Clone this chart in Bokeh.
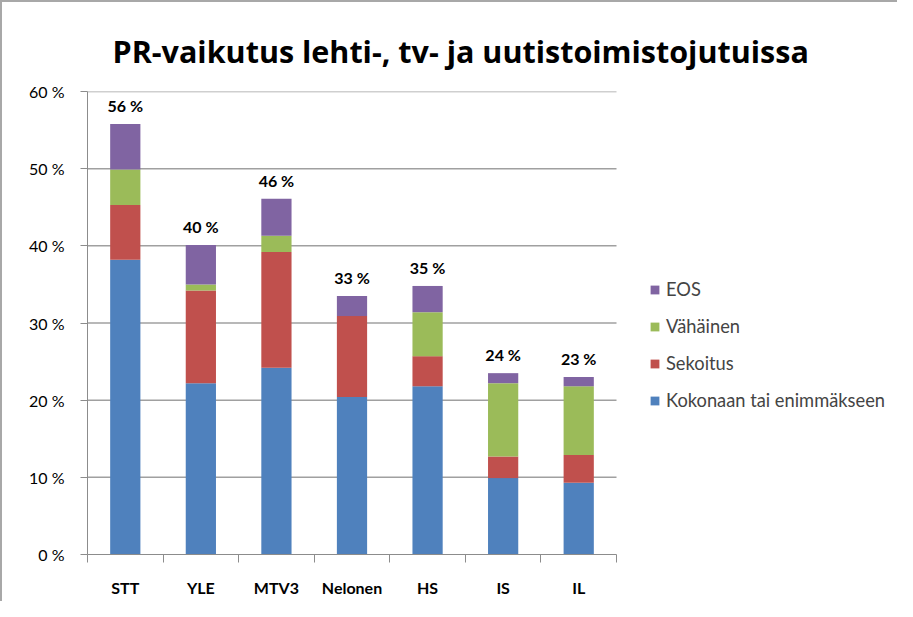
from bokeh.plotting import figure
from bokeh.models import (ColumnDataSource, Range1d, FixedTicker, PrintfTickFormatter,
                          LabelSet, Legend, LegendItem, Title)
from bokeh.core.properties import value
from bokeh.embed import file_html
from bokeh.resources import INLINE

# ---- data (percent) ----
categories = ["STT", "YLE", "MTV3", "Nelonen", "HS", "IS", "IL"]
kokonaan = [38.2, 22.2, 24.2, 20.4, 21.8, 9.9, 9.3]
sekoitus = [7.1, 12.0, 15.0, 10.5, 3.9, 2.8, 3.6]
vahainen = [4.6, 0.8, 2.1, 0.0, 5.7, 9.5, 8.9]
eos = [5.9, 5.1, 4.8, 2.6, 3.4, 1.3, 1.2]
total_labels = [56, 40, 46, 33, 35, 24, 23]
series_names = ["Kokonaan tai enimmäkseen", "Sekoitus", "Vähäinen", "EOS"]
colors = ["#4F81BD", "#C0504D", "#9BBB59", "#8064A2"]
y_ticks = [0, 10, 20, 30, 40, 50, 60]

FONT = "Lato"
N = len(categories)

# layout (pixels)
W, H = 897, 601
B_LEFT, B_TOP, B_BOTTOM, B_RIGHT = 85, 89, 49, 0
PLOT_W = 529  # pixel width of the category area
frame_w = W - B_LEFT - B_RIGHT
x_end = N * frame_w / PLOT_W

xs = [i + 0.5 for i in range(N)]
tops = [a + b + c + d for a, b, c, d in zip(kokonaan, sekoitus, vahainen, eos)]
src = ColumnDataSource(dict(
    x=xs, k=kokonaan, s=sekoitus, v=vahainen, e=eos,
    top=tops, lab=[f"{t} %" for t in total_labels],
))

p = figure(width=W, height=H, output_backend="svg", toolbar_location=None,
           x_range=Range1d(0, x_end), y_range=Range1d(0, 60),
           min_border_left=B_LEFT, min_border_right=B_RIGHT, min_border_top=B_TOP,
           min_border_bottom=B_BOTTOM)
p.styles = {"border-top": "2px solid #a8a8a8", "border-left": "2px solid #a8a8a8"}
p.outline_line_color = None
p.background_fill_color = "white"
p.xgrid.grid_line_color = None
p.ygrid.grid_line_color = None

# horizontal gridlines limited to the category area
grid_y = y_ticks[1:]
p.segment(x0=[0] * len(grid_y), x1=[N] * len(grid_y), y0=grid_y, y1=grid_y,
          line_color="#a0a0a0", line_width=1.5)

renderers = p.vbar_stack(["k", "s", "v", "e"], x="x", width=0.4, source=src,
                         color=colors, line_color=None)

# title
p.title = Title(text="PR-vaikutus lehti-, tv- ja uutistoimistojutuissa",
                text_font="Open Sans", text_font_size="30.5px", text_font_style="bold",
                text_color="black", align="left", offset=25, standoff=40)

# y axis
p.yaxis.ticker = FixedTicker(ticks=y_ticks)
p.yaxis.formatter = PrintfTickFormatter(format="%d %%")
p.yaxis.axis_line_color = "#8c8c8c"
p.yaxis.major_tick_line_color = "#8c8c8c"
p.yaxis.major_tick_out = 7
p.yaxis.major_tick_in = 0
p.yaxis.minor_tick_line_color = None
p.yaxis.major_label_standoff = 16
p.yaxis.major_label_text_font = FONT
p.yaxis.major_label_text_font_size = "16px"
p.yaxis.major_label_text_color = "black"

# x axis: labels at centers, ticks at boundaries
p.xaxis.bounds = (0, N)
p.xaxis.ticker = FixedTicker(ticks=xs, minor_ticks=list(range(N + 1)))
p.xaxis.major_label_overrides = {x: c for x, c in zip(xs, categories)}
p.xaxis.axis_line_color = "#8c8c8c"
p.xaxis.major_tick_line_color = None
p.xaxis.minor_tick_line_color = "#8c8c8c"
p.xaxis.minor_tick_out = 8
p.xaxis.minor_tick_in = 0
p.xaxis.major_label_standoff = 15
p.xaxis.major_label_text_font = FONT
p.xaxis.major_label_text_font_size = "16px"
p.xaxis.major_label_text_font_style = "bold"
p.xaxis.major_label_text_color = "black"

labels = LabelSet(x="x", y="top", text="lab", source=src, y_offset=12,
                  text_align="center", text_baseline="alphabetic",
                  text_font=value(FONT), text_font_size=value("16px"),
                  text_font_style=value("bold"), text_color=value("black"))
p.add_layout(labels)

items = [LegendItem(label=n, renderers=[r]) for n, r in zip(series_names, renderers)]
legend = Legend(items=list(reversed(items)), location=(562, 143),
                label_text_font=FONT, label_text_font_size="18.3px",
                glyph_width=11, glyph_height=11, label_height=20, spacing=15,
                label_standoff=6, padding=0, margin=0, border_line_color=None,
                background_fill_alpha=0)
p.add_layout(legend, "center")

open("out.html", "w").write(file_html(p, INLINE))
